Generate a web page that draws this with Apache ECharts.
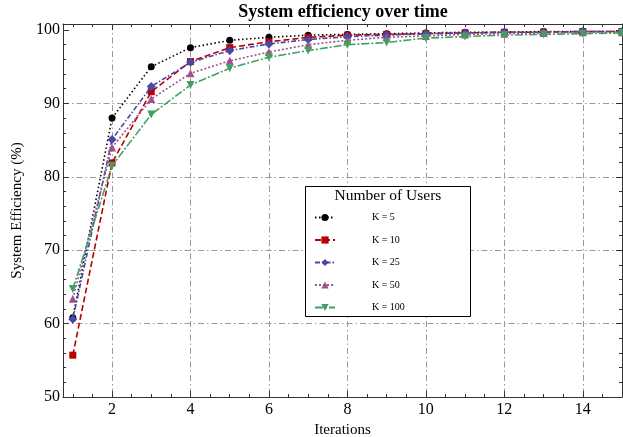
<!DOCTYPE html>
<html><head><meta charset="utf-8">
<script src="https://cdn.jsdelivr.net/npm/echarts@6/dist/echarts.min.js"></script>
<style>html,body{margin:0;padding:0;background:#fff}#c{width:623px;height:437px}</style>
</head><body><div id="c"></div>
<script>
const iterations = [1,2,3,4,5,6,7,8,9,10,11,12,13,14,15];
const seriesNames = ['K = 5','K = 10','K = 25','K = 50','K = 100'];
const k5   = [60.8, 88.0, 95.0, 97.6, 98.6, 99.0, 99.3, 99.4, 99.5, 99.6, 99.7, 99.7, 99.8, 99.8, 99.8];
const k10  = [55.7, 81.9, 91.6, 95.7, 97.6, 98.4, 99.0, 99.3, 99.4, 99.5, 99.6, 99.7, 99.7, 99.8, 99.8];
const k25  = [60.6, 85.1, 92.3, 95.6, 97.2, 98.1, 98.7, 99.1, 99.3, 99.5, 99.6, 99.7, 99.7, 99.8, 99.8];
const k50  = [63.4, 84.0, 90.6, 94.1, 95.8, 97.0, 98.0, 98.6, 99.0, 99.2, 99.4, 99.5, 99.6, 99.7, 99.7];
const k100 = [64.7, 81.5, 88.5, 92.5, 94.8, 96.3, 97.2, 98.0, 98.3, 98.9, 99.1, 99.3, 99.4, 99.5, 99.6];
const xMajorTicks = [2,4,6,8,10,12,14];
const xMinorTicks = [1,1.5,2.5,3,3.5,4.5,5,5.5,6.5,7,7.5,8.5,9,9.5,10.5,11,11.5,12.5,13,13.5,14.5];
const yMajorTicks = [50,60,70,80,90,100];
const yMinorTicks = [52,54,56,58,62,64,66,68,72,74,76,78,82,84,86,88,92,94,96,98];
const yGridLines = [60,70,80,90];

const FONT = '"Liberation Serif", "DejaVu Serif", serif';
const AX = '#333';
const X_MIN = 0.75, X_MAX = 15, Y_MIN = 50, Y_MAX = 100.82;
const GRID_LINE = { color: '#999', width: 1, type: [6, 3, 1.5, 3] };

function xAxisDef(pos, major, withLabels) {
  return {
    type: 'value', position: pos, min: X_MIN, max: X_MAX, splitNumber: 7,
    axisLine: { show: major, lineStyle: { color: AX, width: 1 } },
    axisTick: { show: true, inside: true, length: major ? 6 : 3,
      customValues: major ? xMajorTicks : xMinorTicks, lineStyle: { color: AX, width: 1 } },
    axisLabel: { show: withLabels, customValues: xMajorTicks, margin: 5,
      fontFamily: FONT, fontSize: 16, color: '#000',
      formatter: v => (v % 2 === 0 ? String(v) : '') },
    splitLine: { show: withLabels, lineStyle: GRID_LINE },
    name: withLabels ? 'Iterations' : '', nameLocation: 'middle', nameGap: 20,
    nameTextStyle: { fontFamily: FONT, fontSize: 15, color: '#000' }
  };
}
function yAxisDef(pos, major, withLabels) {
  return {
    type: 'value', position: pos, min: Y_MIN, max: Y_MAX, splitNumber: 5,
    axisLine: { show: major, lineStyle: { color: AX, width: 1 } },
    axisTick: { show: true, inside: true, length: major ? 6 : 3,
      customValues: major ? yMajorTicks : yMinorTicks, lineStyle: { color: AX, width: 1 } },
    axisLabel: { show: withLabels, customValues: yMajorTicks, margin: 3,
      fontFamily: FONT, fontSize: 16, color: '#000',
      formatter: v => (v % 10 === 0 ? String(v) : '') },
    splitLine: { show: false },
    name: withLabels ? 'System Efficiency (%)' : '', nameLocation: 'middle', nameGap: 38,
    nameTextStyle: { fontFamily: FONT, fontSize: 15, color: '#000' }
  };
}
const yGridAxis = {
  type: 'value', position: 'left', min: Y_MIN, max: Y_MAX,
  axisLine: { show: false },
  axisTick: { show: false, customValues: yGridLines },
  axisLabel: { show: false, customValues: yGridLines },
  splitLine: { show: true, lineStyle: GRID_LINE }
};

const styles = [
  { color: '#000000', symbol: 'circle',   size: 7, rot: 0,   dash: [1.5, 2.5] },
  { color: '#b80000', symbol: 'rect',     size: 7, rot: 0,   dash: [6, 3] },
  { color: '#4848a8', symbol: 'diamond',  size: 9, rot: 0,   dash: [5, 2, 1.5, 2] },
  { color: '#a0508c', symbol: 'triangle', size: 8, rot: 0,   dash: [2, 2] },
  { color: '#40a060', symbol: 'triangle', size: 8, rot: 180, dash: [8, 2, 2, 2] }
];
const values = [k5, k10, k25, k50, k100];

const series = seriesNames.map((name, i) => ({
  name, type: 'line', xAxisIndex: 0, yAxisIndex: 0,
  data: iterations.map((x, j) => [x, values[i][j]]),
  symbol: styles[i].symbol, symbolSize: styles[i].size, symbolRotate: styles[i].rot,
  showAllSymbol: true,
  lineStyle: { color: styles[i].color, width: 1.6, type: styles[i].dash, cap: 'butt' },
  itemStyle: { color: styles[i].color },
  z: 2 + i
}));

const chart = echarts.init(document.getElementById('c'), null, { renderer: 'canvas' });
chart.setOption({
  animation: false,
  backgroundColor: '#fff',
  grid: { left: 63, right: 1, top: 24, bottom: 40, containLabel: false, outerBoundsMode: 'none' },
  xAxis: [xAxisDef('bottom', true, true), xAxisDef('bottom', false, false),
          xAxisDef('top', true, false), xAxisDef('top', false, false)],
  yAxis: [yAxisDef('left', true, true), yAxisDef('left', false, false),
          yAxisDef('right', true, false), yAxisDef('right', false, false), yGridAxis],
  legend: {
    data: seriesNames, orient: 'vertical', left: 309, top: 207.5,
    itemWidth: 20, itemHeight: 9, itemGap: 12.5, z: 10,
    textStyle: { fontFamily: FONT, fontSize: 10, color: '#000', padding: [0, 0, 0, 32] }
  },
  graphic: [
    { type: 'rect', z: 5, shape: { x: 305.5, y: 186.5, width: 165, height: 130 },
      style: { fill: '#fff', stroke: '#000', lineWidth: 1 } },
    { type: 'text', z: 11, x: 388, y: 196,
      style: { text: 'Number of Users', font: '15.5px ' + FONT, fill: '#000', textAlign: 'center', textVerticalAlign: 'middle' } },
    { type: 'text', z: 11, x: 343, y: 12,
      style: { text: 'System efficiency over time', font: 'bold 18px ' + FONT, fill: '#000', textAlign: 'center', textVerticalAlign: 'middle' } }
  ],
  series
});
</script>
</body></html>
